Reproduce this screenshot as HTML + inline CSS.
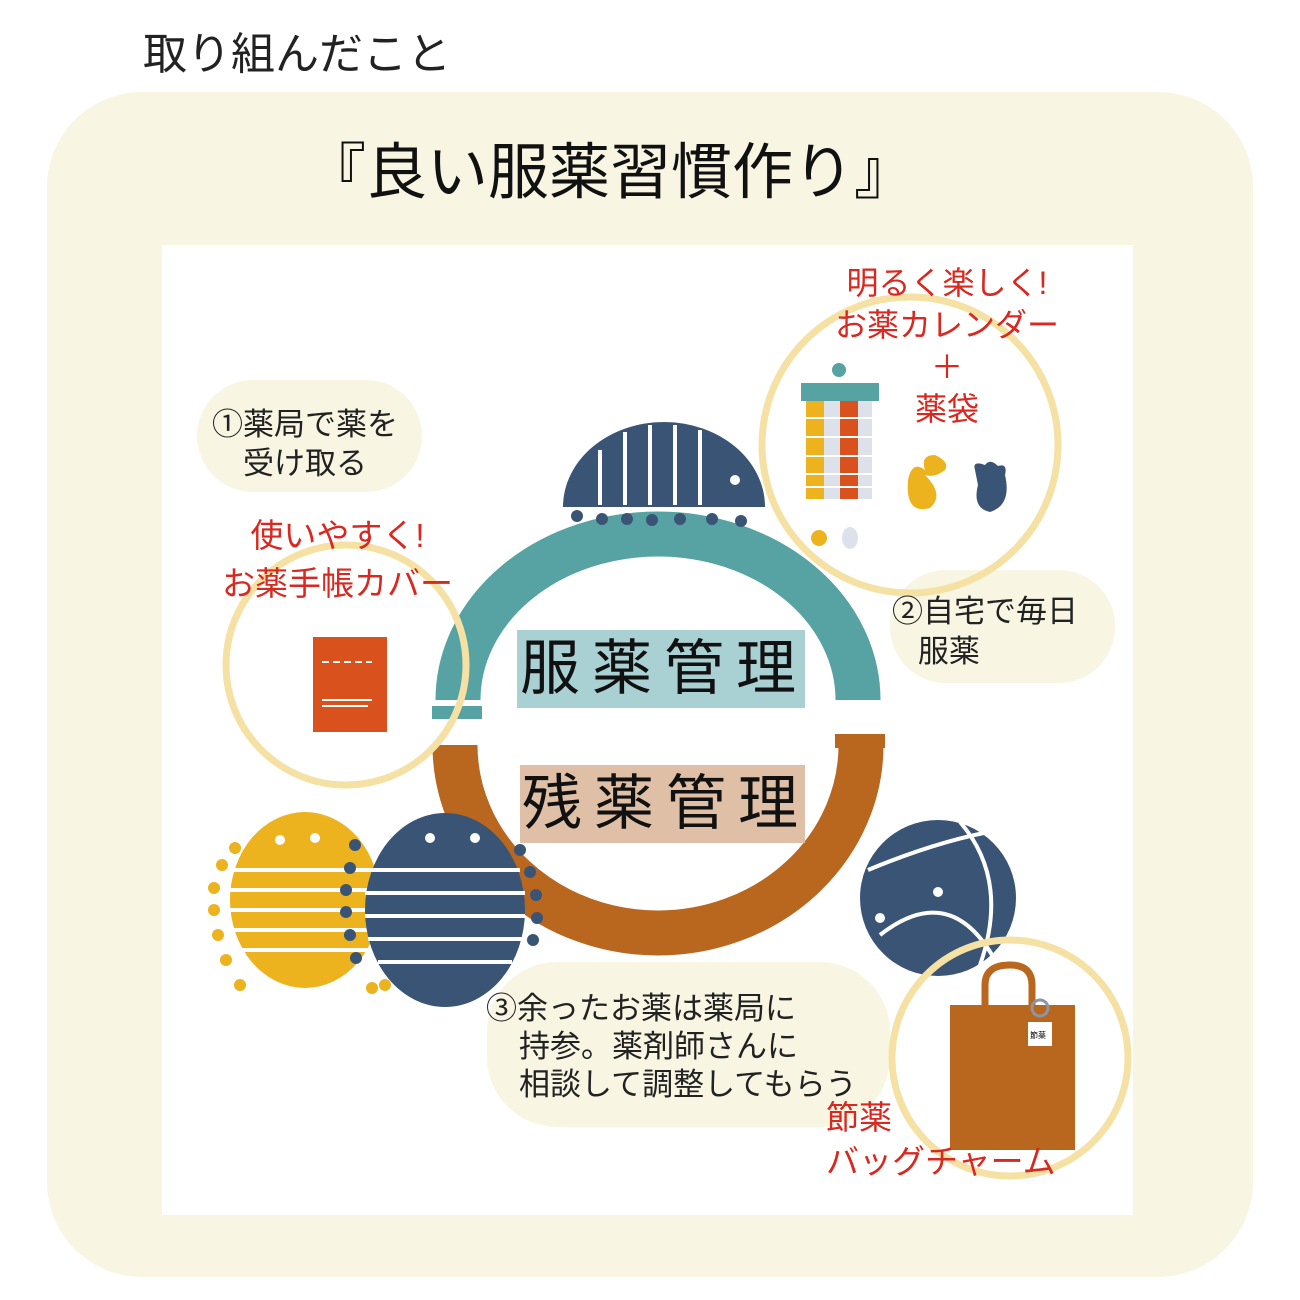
<!DOCTYPE html>
<html><head><meta charset="utf-8"><style>
body{margin:0;width:1300px;height:1300px;background:#fff;overflow:hidden;position:relative;font-family:"Liberation Sans","Noto Sans CJK JP",sans-serif}
.t{position:absolute;white-space:nowrap}
.red{color:#d8281f}
</style></head><body>
<div class="t" style="left:143px;top:18px;font-size:44px;color:#222">取り組んだこと</div>
<div style="position:absolute;left:47px;top:92px;width:1206px;height:1185px;background:#f8f5e2;border-radius:95px"></div>
<div class="t" style="left:305px;top:122px;font-size:61px;color:#111">『良い服薬習慣作り』</div>
<div style="position:absolute;left:162px;top:245px;width:971px;height:970px;background:#fff"></div>
<svg style="position:absolute;left:0;top:0" width="1300" height="1300">
<rect x="197" y="380" width="225" height="112" rx="56" fill="#f8f5e2"/>
<rect x="890" y="570" width="225" height="113" rx="56" fill="#f8f5e2"/>
<rect x="487" y="962" width="403" height="165" rx="70" fill="#f8f5e2"/>
<path d="M458 700 A200 166 0 0 1 858 700" fill="none" stroke="#57a3a4" stroke-width="45"/>
<rect x="432" y="706" width="50" height="13" fill="#57a3a4"/>
<path d="M455 745 A203 188 0 0 0 861 745" fill="none" stroke="#b9661f" stroke-width="45"/>
<rect x="835" y="734" width="50" height="14" fill="#b9661f"/>
<rect x="517" y="630" width="288" height="78" fill="#a9d0d2"/>
<rect x="520" y="765" width="285" height="78" fill="#dfc0a6"/>
<path d="M563 507 A101 85 0 0 1 765 507 Z" fill="#3a5476"/>
<g stroke="#fff" stroke-width="4"><line x1="600" y1="450" x2="600" y2="505"/><line x1="625" y1="432" x2="625" y2="505"/><line x1="650" y1="425" x2="650" y2="505"/><line x1="675" y1="425" x2="675" y2="505"/><line x1="700" y1="430" x2="700" y2="505"/></g>
<circle cx="735" cy="480" r="5" fill="#fff"/>
<g fill="#3a5476"><circle cx="577" cy="516" r="6"/><circle cx="602" cy="519" r="6"/><circle cx="627" cy="519" r="6"/><circle cx="652" cy="520" r="6"/><circle cx="680" cy="519" r="6"/><circle cx="712" cy="519" r="6"/><circle cx="741" cy="521" r="6"/></g>
<ellipse cx="305" cy="900" rx="75" ry="88" fill="#ecb31f"/>
<g stroke="#fff" stroke-width="4"><line x1="232" y1="870" x2="378" y2="870"/><line x1="230" y1="890" x2="380" y2="890"/><line x1="230" y1="910" x2="380" y2="910"/><line x1="232" y1="930" x2="378" y2="930"/><line x1="238" y1="950" x2="372" y2="950"/></g>
<g fill="#fff"><circle cx="280" cy="840" r="5"/><circle cx="315" cy="838" r="5"/></g>
<g fill="#ecb31f"><circle cx="235" cy="848" r="6"/><circle cx="222" cy="865" r="6"/><circle cx="214" cy="888" r="6"/><circle cx="214" cy="910" r="6"/><circle cx="218" cy="935" r="6"/><circle cx="226" cy="960" r="6"/><circle cx="240" cy="985" r="6"/><circle cx="372" cy="988" r="6"/><circle cx="385" cy="985" r="6"/></g>
<ellipse cx="445" cy="910" rx="80" ry="97" fill="#3a5476"/>
<g stroke="#fff" stroke-width="4"><line x1="370" y1="870" x2="520" y2="870"/><line x1="365" y1="893" x2="525" y2="893"/><line x1="365" y1="916" x2="525" y2="916"/><line x1="368" y1="939" x2="522" y2="939"/><line x1="378" y1="962" x2="512" y2="962"/></g>
<g fill="#fff"><circle cx="430" cy="838" r="5"/><circle cx="475" cy="838" r="5"/></g>
<g fill="#3a5476"><circle cx="355" cy="845" r="6"/><circle cx="350" cy="868" r="6"/><circle cx="346" cy="890" r="6"/><circle cx="346" cy="912" r="6"/><circle cx="350" cy="935" r="6"/><circle cx="356" cy="958" r="6"/><circle cx="520" cy="850" r="6"/><circle cx="530" cy="872" r="6"/><circle cx="536" cy="895" r="6"/><circle cx="537" cy="918" r="6"/><circle cx="533" cy="940" r="6"/></g>
<circle cx="938" cy="898" r="78" fill="#3a5476"/>
<path d="M868 870 Q940 840 1000 830 M880 935 Q950 880 995 960 M960 822 Q1010 880 980 965" stroke="#fff" stroke-width="4" fill="none"/>
<circle cx="938" cy="892" r="5" fill="#fff"/><circle cx="880" cy="918" r="5" fill="#fff"/>
<g fill="none" stroke="#f5e1a3" stroke-width="7">
<circle cx="910" cy="445" r="148"/>
<circle cx="346" cy="665" r="120"/>
<circle cx="1010" cy="1058" r="118"/>
</g>
<circle cx="839" cy="370" r="7" fill="#57a3a4"/>
<rect x="801" y="383" width="78" height="18" fill="#57a3a4"/>
<rect x="806" y="401" width="66" height="98" fill="#dde2ea"/>
<rect x="806" y="401" width="18" height="98" fill="#ecb31f"/>
<rect x="840" y="401" width="18" height="98" fill="#d9521e"/>
<g stroke="#fff" stroke-width="2"><line x1="806" y1="418" x2="872" y2="418"/><line x1="806" y1="437" x2="872" y2="437"/><line x1="806" y1="456" x2="872" y2="456"/><line x1="806" y1="474" x2="872" y2="474"/><line x1="806" y1="487" x2="872" y2="487"/></g>
<ellipse cx="850" cy="538" rx="8" ry="11" fill="#dde2ea"/>
<circle cx="819" cy="538" r="8" fill="#ecb31f"/>
<path d="M908 480 Q912 460 925 470 Q920 455 935 455 Q950 462 945 470 Q935 478 925 475 Q945 495 930 508 Q905 515 908 480Z" fill="#ecb31f"/>
<path d="M975 470 Q972 460 985 465 Q990 458 998 466 Q1008 463 1005 475 Q1012 505 990 512 Q972 508 978 485Z" fill="#3a5476"/>
<rect x="313" y="637" width="74" height="95" fill="#d9521e"/>
<g stroke="#fff" stroke-width="2"><line x1="322" y1="662" x2="372" y2="662" stroke-dasharray="7 4"/><line x1="322" y1="700" x2="372" y2="700"/><line x1="322" y1="706" x2="368" y2="706"/></g>
<path d="M985 1010 L985 985 Q985 965 1010 965 Q1032 965 1032 985 L1032 1010" fill="none" stroke="#b9661f" stroke-width="7"/>
<rect x="950" y="1005" width="125" height="145" fill="#b9661f"/>
<circle cx="1040" cy="1008" r="8" fill="none" stroke="#8b95a3" stroke-width="3"/>
<rect x="1028" y="1022" width="24" height="24" fill="#fff"/>
<text x="1030" y="1038" font-size="8" font-family="Noto Sans CJK JP">節薬</text>
</svg>
<div class="t" style="left:212px;top:405px;font-size:31px;color:#222;text-align:center;line-height:39px">①薬局で薬を<br>受け取る</div>
<div class="t" style="left:892px;top:592px;font-size:31px;color:#222;line-height:40px">②自宅で毎日<br>&nbsp;&nbsp;&nbsp;服薬</div>
<div class="t" style="left:486px;top:990px;font-size:31px;color:#222;line-height:38px">③余ったお薬は薬局に<br><span style="padding-left:33px">持参。薬剤師さんに</span><br><span style="padding-left:33px">相談して調整してもらう</span></div>
<div class="t red" style="left:832px;top:262px;font-size:32px;text-align:center;line-height:42px;width:230px">明るく楽しく!<br>お薬カレンダー<br>＋<br>薬袋</div>
<div class="t red" style="left:205px;top:512px;font-size:33px;text-align:center;line-height:48px;width:265px">使いやすく!<br>お薬手帳カバー</div>
<div class="t red" style="left:826px;top:1096px;font-size:33px;line-height:44px">節薬<br>バッグチャーム</div>
<div class="t" style="left:520px;top:630px;font-size:60px;letter-spacing:12px;color:#111;line-height:78px">服薬管理</div>
<div class="t" style="left:522px;top:765px;font-size:60px;letter-spacing:12px;color:#111;line-height:78px">残薬管理</div>
</body></html>
